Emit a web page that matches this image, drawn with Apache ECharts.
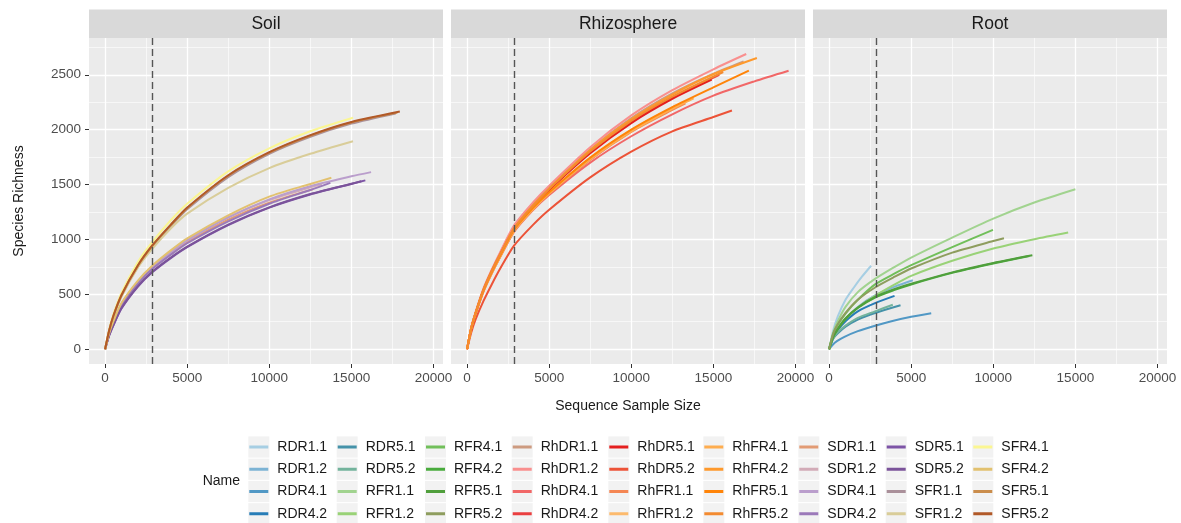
<!DOCTYPE html>
<html>
<head>
<meta charset="utf-8">
<script src="https://cdn.jsdelivr.net/npm/echarts@6/dist/echarts.min.js"></script>
<style>html,body{margin:0;padding:0;background:#fff}#chart{width:1181px;height:523px}</style>
</head>
<body>
<div id="chart"></div>
<script>
// ---------------- data ----------------
const panelNames = ['Soil', 'Rhizosphere', 'Root'];
const xTicks = [0, 5000, 10000, 15000, 20000];
const yTicks = [0, 500, 1000, 1500, 2000, 2500];
const xMinorBreaks = [2500, 7500, 12500, 17500];
const yMinorBreaks = [250, 750, 1250, 1750, 2250, 2750];
const rarefactionDepth = 2870;

const sampleNames = ['RDR1.1','RDR1.2','RDR4.1','RDR4.2','RDR5.1','RDR5.2',
  'RFR1.1','RFR1.2','RFR4.1','RFR4.2','RFR5.1','RFR5.2',
  'RhDR1.1','RhDR1.2','RhDR4.1','RhDR4.2','RhDR5.1','RhDR5.2',
  'RhFR1.1','RhFR1.2','RhFR4.1','RhFR4.2','RhFR5.1','RhFR5.2',
  'SDR1.1','SDR1.2','SDR4.1','SDR4.2','SDR5.1','SDR5.2',
  'SFR1.1','SFR1.2','SFR4.1','SFR4.2','SFR5.1','SFR5.2'];

// [sequence sample size, species richness]
// Root
const RDR1_1 = [[0,0],[250,170],[530,298],[1000,450],[1500,560],[2000,660],[2560,760]];
const RDR1_2 = [[0,0],[250,115],[500,180],[1000,275],[1750,385],[2800,490],[4000,570],[5100,628]];
const RDR4_1 = [[0,0],[250,45],[500,75],[935,113],[1750,165],[2800,214],[3800,255],[5000,295],[6220,328]];
const RDR4_2 = [[0,0],[250,110],[500,170],[1000,255],[1750,345],[2800,420],[3985,486]];
const RDR5_1 = [[0,0],[250,95],[500,140],[1000,205],[1750,270],[2800,330],[4350,400]];
const RDR5_2 = [[0,0],[250,100],[500,150],[1000,215],[1750,285],[2800,345],[3880,405]];
const RFR1_1 = [[0,0],[250,150],[500,245],[1000,385],[1750,520],[2800,640],[4000,750],[5000,835],[7500,1017],[10000,1190],[12500,1336],[15000,1457]];
const RFR1_2 = [[0,0],[250,125],[500,190],[1000,280],[1750,380],[2800,486],[4000,590],[5000,668],[7500,805],[10000,917],[12500,1002],[14560,1063]];
const RFR4_1 = [[0,0],[250,140],[500,215],[1000,325],[1750,450],[2800,590],[4000,690],[5000,765],[7500,930],[9980,1087]];
const RFR4_2 = [[0,0],[250,110],[500,175],[1000,275],[1750,375],[2800,470],[4000,540],[5000,590],[7500,695],[10000,780],[12200,848]];
const RFR5_1 = [[0,0],[250,112],[500,178],[1000,280],[1750,380],[2800,476],[4000,548],[5000,596],[7500,700],[10000,786],[12380,856]];
const RFR5_2 = [[0,0],[250,140],[500,220],[1000,330],[1750,450],[2800,562],[4000,660],[5000,735],[7500,880],[10000,985],[10650,1011]];
// Rhizosphere
const RhDR1_1 = [[0,0],[250,192],[500,325],[1000,548],[1500,718],[2000,870],[2870,1115],[4000,1320],[5000,1475],[7500,1820],[10000,2105],[12500,2330],[15000,2510],[16840,2622]];
const RhDR1_2 = [[0,0],[250,195],[500,330],[1000,555],[1500,725],[2000,880],[2870,1130],[4000,1335],[5000,1490],[7500,1840],[10000,2130],[12500,2360],[15000,2550],[17000,2689]];
const RhDR4_1 = [[0,0],[250,185],[500,312],[1000,525],[1500,690],[2000,835],[2870,1070],[4000,1265],[5000,1405],[7500,1700],[10000,1940],[12500,2140],[15000,2310],[17500,2440],[19580,2537]];
const RhDR4_2 = [[0,0],[250,190],[500,320],[1000,540],[1500,710],[2000,860],[2870,1100],[4000,1300],[5000,1455],[7500,1795],[10000,2070],[12500,2290],[15360,2500]];
const RhDR5_1 = [[0,0],[250,188],[500,318],[1000,535],[1500,705],[2000,855],[2870,1095],[4000,1295],[5000,1450],[7500,1785],[10000,2060],[12500,2280],[14900,2455]];
const RhDR5_2 = [[0,0],[250,150],[500,265],[1000,440],[1500,590],[2000,730],[2870,945],[4000,1130],[5000,1270],[7500,1565],[10000,1800],[12500,1985],[15000,2115],[16130,2174]];
const RhFR1_1 = [[0,0],[250,188],[500,315],[1000,530],[1500,695],[2000,840],[2870,1080],[4000,1270],[5000,1415],[7500,1725],[10000,1980],[12500,2180],[13300,2240]];
const RhFR1_2 = [[0,0],[250,188],[500,318],[1000,532],[1500,698],[2000,845],[2870,1085],[4000,1280],[5000,1425],[7500,1740],[10000,1995],[12500,2200],[13590,2271]];
const RhFR4_1 = [[0,0],[250,186],[500,314],[1000,528],[1500,692],[2000,838],[2870,1078],[4000,1272],[5000,1418],[7500,1730],[10000,1985],[12500,2190],[13800,2285]];
const RhFR4_2 = [[0,0],[250,190],[500,322],[1000,542],[1500,712],[2000,862],[2870,1105],[4000,1310],[5000,1465],[7500,1815],[10000,2095],[12500,2320],[15000,2505],[17650,2653]];
const RhFR5_1 = [[0,0],[250,188],[500,318],[1000,535],[1500,700],[2000,848],[2870,1090],[4000,1285],[5000,1430],[7500,1745],[10000,2000],[12500,2205],[15000,2385],[17160,2537]];
const RhFR5_2 = [[0,0],[250,190],[500,320],[1000,538],[1500,708],[2000,858],[2870,1100],[4000,1302],[5000,1458],[7500,1800],[10000,2080],[12500,2300],[15600,2525]];
// Soil
const SDR1_1 = [[0,0],[250,140],[500,240],[1000,405],[2000,605],[2870,735],[4000,870],[5000,975],[7500,1180],[10000,1335],[12640,1456]];
const SDR1_2 = [[0,0],[250,142],[500,244],[1000,412],[2000,615],[2870,748],[4000,885],[5000,992],[7500,1200],[10000,1358],[12500,1475],[13200,1502]];
const SDR4_1 = [[0,0],[250,140],[500,240],[1000,410],[2000,610],[2870,745],[4000,880],[5000,990],[7500,1200],[10000,1365],[12500,1485],[15000,1575],[16200,1613]];
const SDR4_2 = [[0,0],[250,135],[500,235],[1000,400],[2000,600],[2870,730],[4000,860],[5000,965],[7500,1165],[10000,1325],[12500,1450],[13720,1515]];
const SDR5_1 = [[0,0],[250,125],[500,215],[1000,370],[2000,570],[2870,700],[4000,830],[5000,930],[7500,1130],[10000,1290],[12500,1410],[15000,1505],[15850,1538]];
const SDR5_2 = [[0,0],[250,127],[500,218],[1000,375],[2000,575],[2870,705],[4000,835],[5000,935],[7500,1135],[10000,1292],[12500,1413],[15000,1507],[15600,1530]];
const SFR1_1 = [[0,0],[250,168],[500,296],[1000,485],[2000,752],[2870,932],[4000,1120],[5000,1275],[7500,1568],[10000,1780],[12500,1935],[15000,2055],[17700,2148]];
const SFR1_2 = [[0,0],[250,165],[500,295],[1000,480],[2000,745],[2870,915],[4000,1100],[5000,1235],[7500,1470],[10000,1650],[12500,1780],[15100,1895]];
const SFR4_1 = [[0,0],[250,180],[500,315],[1000,515],[2000,795],[2870,975],[4000,1175],[5000,1325],[7500,1620],[10000,1830],[12500,1985],[15100,2108]];
const SFR4_2 = [[0,0],[250,145],[500,250],[1000,420],[2000,625],[2870,760],[4000,900],[5000,1010],[7500,1220],[10000,1390],[12500,1505],[13780,1562]];
const SFR5_1 = [[0,0],[250,170],[500,300],[1000,490],[2000,760],[2870,940],[4000,1130],[5000,1285],[7500,1580],[10000,1790],[12500,1945],[15000,2065],[17800,2155]];
const SFR5_2 = [[0,0],[250,172],[500,302],[1000,494],[2000,765],[2870,945],[4000,1135],[5000,1290],[7500,1585],[10000,1795],[12500,1950],[15000,2070],[17950,2165]];

const sampleData = [RDR1_1, RDR1_2, RDR4_1, RDR4_2, RDR5_1, RDR5_2,
  RFR1_1, RFR1_2, RFR4_1, RFR4_2, RFR5_1, RFR5_2,
  RhDR1_1, RhDR1_2, RhDR4_1, RhDR4_2, RhDR5_1, RhDR5_2,
  RhFR1_1, RhFR1_2, RhFR4_1, RhFR4_2, RhFR5_1, RhFR5_2,
  SDR1_1, SDR1_2, SDR4_1, SDR4_2, SDR5_1, SDR5_2,
  SFR1_1, SFR1_2, SFR4_1, SFR4_2, SFR5_1, SFR5_2];

// ---------------- styles ----------------
const palette = ['#A6CEE3','#7CB3D4','#5198C5','#277DB7','#4592A9','#73B39C',
  '#A1D38F','#99D277','#71BF5A','#49AB3C','#509F3C','#8E9D5E',
  '#CD9B80','#F98F8E','#F16767','#EA3F40','#E41F1E','#EC5338',
  '#F48653','#FCBA6D','#FEAD4F','#FE992C','#FF8409','#F38B31',
  '#E29B74','#D2ABB7','#BA9ECC','#9B79B9','#7D54A6','#7B539A',
  '#AA909A','#D9CD99','#FBF692','#E2C16F','#CA8D4C','#B15928'];

const FONT = '"Liberation Sans", Arial, Helvetica, sans-serif';
const gridLeft = [89, 451, 813];
const GRID_W = 354, GRID_TOP = 38, GRID_H = 326;
const X_MIN = -980, X_MAX = 20580, Y_MIN = -135, Y_MAX = 2835;
const keyLeft = [248.3, 336.7, 425, 511.7, 608.3, 703.3, 798.3, 885.7, 972.3];
const LEGEND_TOP = 439, ROW_STEP = 22.25;
const plainNumber = v => String(v);

function panelOf(name) {
  if (name.startsWith('Rh')) return 1;
  if (name.startsWith('R')) return 2;
  return 0;
}

const grids = gridLeft.map(l => ({
  left: l, top: GRID_TOP, width: GRID_W, height: GRID_H,
  show: true, backgroundColor: '#EBEBEB', borderWidth: 0,
  containLabel: false, outerBoundsMode: 'none'
}));

const xAxes = gridLeft.map((l, i) => ({
  type: 'value', gridIndex: i, min: X_MIN, max: X_MAX,
  axisLine: { show: false, onZero: false },
  axisTick: { show: true, length: 4, customValues: xTicks, lineStyle: { color: '#333333', width: 1 } },
  axisLabel: { show: true, customValues: xTicks, formatter: plainNumber, color: '#4D4D4D', fontSize: 13.5, fontFamily: FONT, margin: 7 },
  splitLine: { show: false },
  name: i === 1 ? 'Sequence Sample Size' : '',
  nameLocation: 'middle', nameGap: 35,
  nameTextStyle: { fontSize: 14, color: '#1A1A1A', fontFamily: FONT }
}));

const yAxes = gridLeft.map((l, i) => ({
  type: 'value', gridIndex: i, min: Y_MIN, max: Y_MAX,
  axisLine: { show: false, onZero: false },
  axisTick: { show: i === 0, length: 4, customValues: yTicks, lineStyle: { color: '#333333', width: 1 } },
  axisLabel: { show: i === 0, customValues: yTicks, formatter: plainNumber, color: '#4D4D4D', fontSize: 13.5, fontFamily: FONT, margin: 8 },
  splitLine: { show: false },
  name: i === 0 ? 'Species Richness' : '',
  nameLocation: 'middle', nameGap: 63,
  nameTextStyle: { fontSize: 14, color: '#1A1A1A', fontFamily: FONT }
}));

const series = [];
gridLeft.forEach((l, i) => {
  const lines = [];
  xTicks.forEach(v => lines.push({ xAxis: v, lineStyle: { color: '#FFFFFF', width: 1.3, type: 'solid' } }));
  xMinorBreaks.forEach(v => lines.push({ xAxis: v, lineStyle: { color: '#FFFFFF', width: 0.6, type: 'solid' } }));
  yTicks.forEach(v => lines.push({ yAxis: v, lineStyle: { color: '#FFFFFF', width: 1.3, type: 'solid' } }));
  yMinorBreaks.forEach(v => lines.push({ yAxis: v, lineStyle: { color: '#FFFFFF', width: 0.6, type: 'solid' } }));
  series.push({
    type: 'line', xAxisIndex: i, yAxisIndex: i, data: [], silent: true, z: 1,
    markLine: { silent: true, z: 1, symbol: ['none', 'none'], label: { show: false }, animation: false,
      emphasis: { disabled: true }, data: lines }
  });
});

sampleNames.forEach((nm, k) => {
  const p = panelOf(nm);
  series.push({
    name: nm, type: 'line', xAxisIndex: p, yAxisIndex: p, data: sampleData[k],
    showSymbol: false, symbol: 'none', smooth: 0.25,
    color: palette[k], itemStyle: { color: palette[k] },
    lineStyle: { width: 2, color: palette[k] },
    z: 3, silent: true, animation: false, emphasis: { disabled: true }
  });
});

gridLeft.forEach((l, i) => {
  series.push({
    type: 'line', xAxisIndex: i, yAxisIndex: i, data: [], silent: true, z: 10,
    markLine: { silent: true, z: 10, symbol: ['none', 'none'], label: { show: false }, animation: false,
      emphasis: { disabled: true },
      data: [{ xAxis: rarefactionDepth, lineStyle: { color: '#555555', width: 1.4, type: [7, 4] } }] }
  });
});

const legends = keyLeft.map((kl, c) => ({
  orient: 'vertical', left: kl + 1, top: LEGEND_TOP, padding: 0,
  itemGap: ROW_STEP - 16, itemWidth: 19, itemHeight: 3, icon: 'rect',
  selectedMode: false, itemStyle: { borderWidth: 0 },
  textStyle: { fontSize: 14, color: '#1A1A1A', fontFamily: FONT, lineHeight: 16, padding: [0, 0, 0, 4] },
  data: sampleNames.slice(c * 4, c * 4 + 4)
}));

const graphics = [];
gridLeft.forEach((l, i) => {
  graphics.push({ type: 'rect', left: l, top: 9.5, z: 0, silent: true,
    shape: { width: GRID_W, height: 28.5 }, style: { fill: '#D9D9D9' } });
  graphics.push({ type: 'text', x: l + GRID_W / 2, y: 24, z: 1, silent: true,
    style: { text: panelNames[i], fill: '#1A1A1A', font: '17.5px ' + FONT, textAlign: 'center', textVerticalAlign: 'middle' } });
});
keyLeft.forEach(kl => {
  for (let r = 0; r < 4; r++) {
    const cy = LEGEND_TOP + 8 + r * ROW_STEP;
    graphics.push({ type: 'rect', left: kl, top: cy - 10.6, z: 0, silent: true,
      shape: { width: 21, height: 21.2 }, style: { fill: '#F2F2F2' } });
  }
});
graphics.push({ type: 'text', x: 202.7, y: 481.5, z: 1, silent: true,
  style: { text: 'Name', fill: '#1A1A1A', font: '14px ' + FONT, textAlign: 'left', textVerticalAlign: 'middle' } });

const chart = echarts.init(document.getElementById('chart'), null, { renderer: 'canvas' });
chart.setOption({
  animation: false,
  backgroundColor: '#FFFFFF',
  textStyle: { fontFamily: FONT },
  grid: grids,
  xAxis: xAxes,
  yAxis: yAxes,
  legend: legends,
  graphic: { elements: graphics },
  series: series
});
</script>
</body>
</html>
